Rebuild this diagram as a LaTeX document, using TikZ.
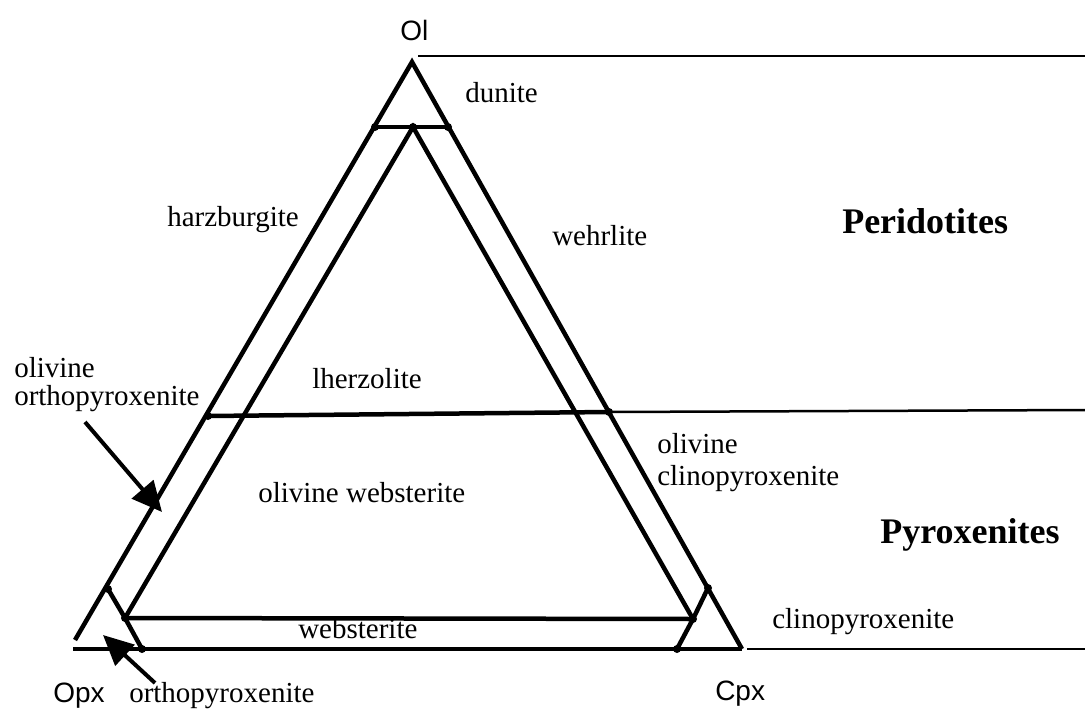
\documentclass[tikz,border=0pt]{standalone}
\usepackage{fontspec}
\setmainfont{Liberation Serif}
\newfontfamily\polefont{Liberation Sans}
\usetikzlibrary{arrows.meta}

\begin{document}
\begin{tikzpicture}[x=1pt,y=-1pt,line width=4.5pt,
  noeud/.style={circle,fill,inner sep=0pt,minimum size=8pt},
  roche/.style={font=\fontsize{29}{30}\selectfont,inner sep=0pt,anchor=base west},
  famille/.style={font=\fontsize{36}{36}\selectfont\bfseries,inner sep=0pt,anchor=base west},
  pole/.style={font=\fontsize{28}{28}\selectfont\polefont,inner sep=0pt,anchor=base west},
  fleche/.style={line width=4pt,-{Triangle[length=30pt,width=28pt]}},
  limite/.style={line width=2.5pt}]
\useasboundingbox (0,0) rectangle (1085,710);
% Sommets du triangle Ol-Opx-Cpx.
\coordinate (ol) at (412,62);
\coordinate (opx) at (75,640);
\coordinate (opxb) at (73,649);
\coordinate (cpx) at (742,649);
% Points de coupure sur les c\^ot\'es et le triangle int\'erieur.
\coordinate (dua) at (375,127);
\coordinate (dub) at (448,127);
\coordinate (int) at (413,127);
\coordinate (lha) at (208,416);
\coordinate (lhb) at (609,412);
\coordinate (wea) at (125,618);
\coordinate (web) at (693,619);
\coordinate (opa) at (108,589);
\coordinate (opb) at (142,649);
\coordinate (cpa) at (708,588);
\coordinate (cpb) at (677,649);
% Traits de s\'eparation vers la droite.
\coordinate (hauta) at (418,56);
\coordinate (hautb) at (1085,56);
\coordinate (milb) at (1085,410);
\coordinate (basa) at (747,649);
\coordinate (basb) at (1085,649);
% Triangle ext\'erieur.
\draw (opx) -- (ol) -- (cpx);
\draw (opxb) -- (cpx);
% Triangle int\'erieur et lignes de champs.
\draw (dua) -- (dub);
\draw (wea) -- (int) -- (web);
\draw (wea) -- (web);
\draw (lha) -- (lhb);
\draw (opa) -- (wea) -- (opb);
\draw (cpa) -- (web) -- (cpb);
\foreach \p in {dua,int,dub,lha,lhb,wea,web,opa,opb,cpa,cpb}
  \node[noeud] at (\p) {};
\draw[limite] (hauta) -- (hautb);
\draw[limite] (lhb) -- (milb);
\draw[limite] (basa) -- (basb);
% P\^oles.
\node[pole] (lol) at (398,40) {Ol};
\node[pole] (lopx) at (51,702) {Opx};
\node[pole] (lcpx) at (713,700) {Cpx};
% Noms des roches.
\node[roche] (dun) at (463,102) {dunite};
\node[roche] (har) at (165,226) {harzburgite};
\node[roche] (weh) at (550,245) {wehrlite};
\node[roche] (lhe) at (310,388) {lherzolite};
\node[roche] (oopa) at (12,377) {olivine};
\node[roche] (oopb) at (12,405) {orthopyroxenite};
\node[roche] (ocpa) at (655,453) {olivine};
\node[roche] (ocpb) at (655,485) {clinopyroxenite};
\node[roche] (owe) at (256,502) {olivine websterite};
\node[roche] (cpxr) at (770,628) {clinopyroxenite};
\node[roche] (wes) at (296,638) {websterite};
\node[roche] (opxr) at (127,702) {orthopyroxenite};
\node[famille] (per) at (840,233) {Peridotites};
\node[famille] (pyr) at (878,543) {Pyroxenites};
% Fl\`eches vers les champs \'etroits.
\coordinate (fla) at (85,422);
\coordinate (flb) at (162,512);
\coordinate (flc) at (155,683);
\coordinate (fld) at (103,635);
\draw[fleche] (fla) -- (flb);
\draw[fleche] (flc) -- (fld);
\end{tikzpicture}
\end{document}
